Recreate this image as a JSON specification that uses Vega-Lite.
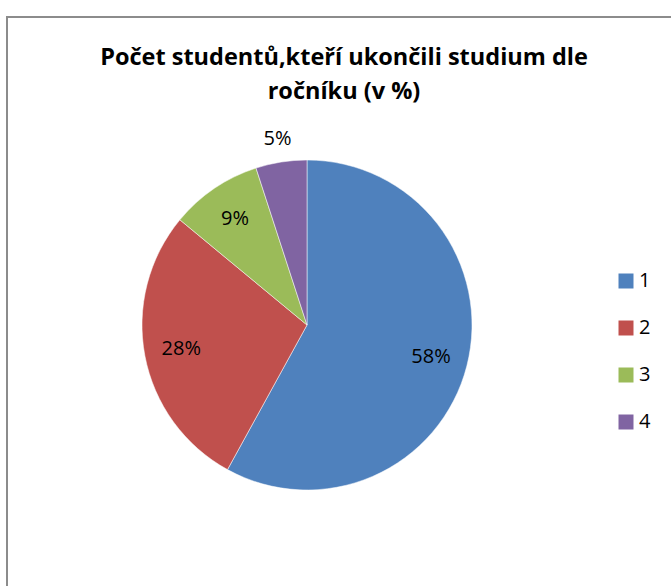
{
  "$schema": "https://vega.github.io/schema/vega-lite/v6.json",
  "autosize": "none",
  "padding": {"left": 7, "top": 17, "right": 0, "bottom": 0},
  "width": 700,
  "height": 620,
  "background": "white",
  "config": {
    "view": {"stroke": null},
    "font": "Open Sans"
  },
  "title": {
    "text": ["Počet studentů,kteří ukončili studium dle", "ročníku (v %)"],
    "font": "Open Sans",
    "fontSize": 23.5,
    "fontWeight": "bold",
    "color": "#000000",
    "anchor": "middle",
    "frame": "group",
    "baseline": "top",
    "lineHeight": 34,
    "dx": -13,
    "dy": 34,
    "offset": -53
  },
  "data": {
    "values": [
      {"k": "1", "v": 58, "label": "58%"},
      {"k": "2", "v": 28, "label": "28%"},
      {"k": "3", "v": 9, "label": "9%"},
      {"k": "4", "v": 5, "label": "5%"}
    ]
  },
  "layer": [
    {
      "data": {"values": [{"frame": 1}]},
      "mark": {"type": "rect", "fill": null, "stroke": "#8c8c8c", "strokeWidth": 2},
      "encoding": {}
    },
    {
      "mark": {"type": "arc", "outerRadius": 165, "xOffset": -50, "yOffset": -2, "stroke": "white", "strokeWidth": 0.5},
      "encoding": {
        "theta": {"field": "v", "type": "quantitative", "stack": true},
        "order": {"field": "k", "type": "ordinal"},
        "color": {
          "field": "k",
          "type": "nominal",
          "scale": {"domain": ["1", "2", "3", "4"], "range": ["#4F81BD", "#C0504D", "#9BBB59", "#8064A2"]},
          "legend": {
            "title": null,
            "orient": "none",
            "legendX": 609,
            "legendY": 254,
            "symbolType": "square",
            "symbolSize": 225,
            "symbolStrokeWidth": 0,
            "rowPadding": 27,
            "labelFont": "Open Sans",
            "labelFontSize": 20,
            "labelColor": "#000000",
            "labelOffset": 3
          }
        }
      }
    },
    {
      "mark": {"type": "text", "radius": 128, "xOffset": -50, "yOffset": -2, "fontSize": 20, "font": "Open Sans", "color": "#000000"},
      "encoding": {
        "theta": {"field": "v", "type": "quantitative", "stack": true},
        "order": {"field": "k", "type": "ordinal"},
        "text": {"condition": {"test": "datum.k == '4'", "value": ""}, "field": "label", "type": "nominal"}
      }
    },
    {
      "mark": {"type": "text", "radius": 188, "xOffset": -50, "yOffset": -2, "fontSize": 20, "font": "Open Sans", "color": "#000000"},
      "encoding": {
        "theta": {"field": "v", "type": "quantitative", "stack": true},
        "order": {"field": "k", "type": "ordinal"},
        "text": {"condition": {"test": "datum.k != '4'", "value": ""}, "field": "label", "type": "nominal"}
      }
    }
  ]
}
